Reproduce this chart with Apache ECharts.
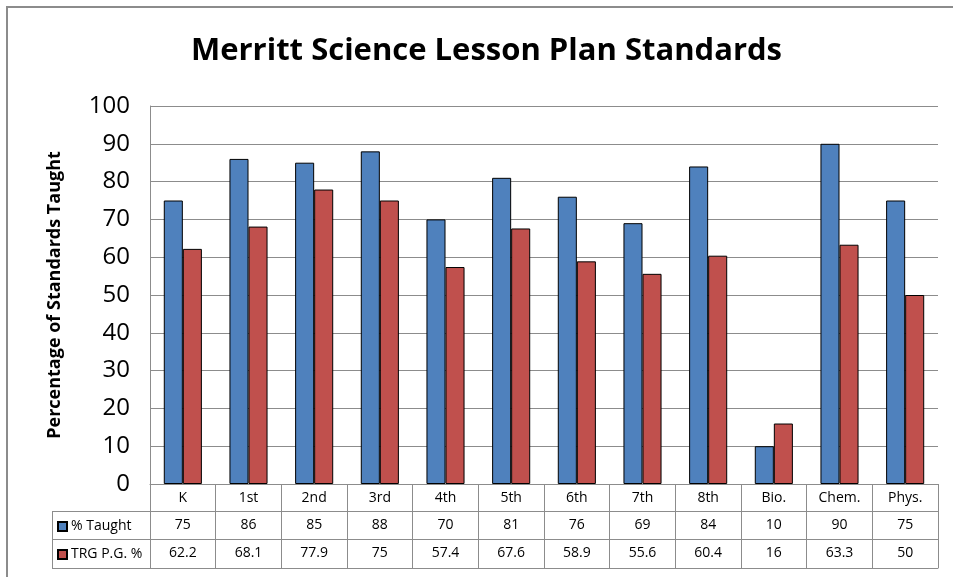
<!DOCTYPE html>
<html>
<head>
<meta charset="utf-8">
<script src="https://cdn.jsdelivr.net/npm/echarts@6/dist/echarts.min.js"></script>
<style>
html,body{margin:0;padding:0;background:#fff;}
#chart{width:953px;height:577px;}
</style>
</head>
<body>
<div id="chart"></div>
<script>
const categories = ['K','1st','2nd','3rd','4th','5th','6th','7th','8th','Bio.','Chem.','Phys.'];
const taught = [75, 86, 85, 88, 70, 81, 76, 69, 84, 10, 90, 75];
const trg = [62.2, 68.1, 77.9, 75, 57.4, 67.6, 58.9, 55.6, 60.4, 16, 63.3, 50];
const seriesNames = ['% Taught', 'TRG P.G. %'];
const yTicks = {min: 0, max: 100, interval: 10};

const FONT = 'Open Sans';
const GRAY = '#8c8c8c';
const chart = echarts.init(document.getElementById('chart'));

function tableAxis(data, offset, tickLen, showLabel) {
  return {
    type: 'category',
    data: data,
    position: 'bottom',
    offset: offset,
    axisLine: {show: true, lineStyle: {color: GRAY, width: 1}},
    axisTick: {show: tickLen > 0, interval: 0, length: tickLen, lineStyle: {color: GRAY, width: 1}},
    axisLabel: {show: showLabel, interval: 0, margin: 7, fontFamily: FONT, fontSize: 14, color: '#000'},
    splitLine: {show: false}
  };
}

chart.setOption({
  backgroundColor: '#fff',
  animation: false,
  title: {
    text: 'Merritt Science Lesson Plan Standards',
    left: 191,
    top: 36,
    padding: 0,
    textStyle: {fontFamily: FONT, fontSize: 31, fontWeight: 'bold', color: '#000'}
  },
  legend: {
    orient: 'vertical',
    left: 57,
    top: 518,
    padding: 0,
    itemWidth: 9,
    itemHeight: 9,
    itemGap: 11,
    icon: 'rect',
    textStyle: {fontFamily: FONT, fontSize: 14, color: '#000', lineHeight: 17, padding: [0,0,0,-1]},
    data: seriesNames
  },
  grid: {left: 150, right: 15, top: 106, bottom: 93, containLabel: false},
  xAxis: [
    tableAxis(categories, 0, 27, true),
    tableAxis(taught.map(String), 27, 28, true),
    tableAxis(trg.map(String), 55, 29, true),
    tableAxis(categories.map(() => ''), 84, 0, false)
  ],
  yAxis: {
    type: 'value',
    min: yTicks.min,
    max: yTicks.max,
    interval: yTicks.interval,
    name: 'Percentage of Standards Taught',
    nameLocation: 'middle',
    nameGap: 86,
    nameRotate: 90,
    nameTextStyle: {fontFamily: FONT, fontSize: 18, fontWeight: 'bold', color: '#000'},
    axisLine: {show: true, lineStyle: {color: GRAY, width: 1}},
    axisTick: {show: false},
    axisLabel: {fontFamily: FONT, fontSize: 24, color: '#000', margin: 20},
    splitLine: {show: true, lineStyle: {color: GRAY, width: 1}}
  },
  series: [
    {
      name: seriesNames[0], type: 'bar', data: taught, xAxisIndex: 0,
      barGap: '0%', barCategoryGap: '42%',
      itemStyle: {color: '#4F81BD', borderColor: '#000', borderWidth: 1}
    },
    {
      name: seriesNames[1], type: 'bar', data: trg, xAxisIndex: 0,
      barGap: '0%', barCategoryGap: '42%',
      itemStyle: {color: '#C0504D', borderColor: '#000', borderWidth: 1}
    }
  ],
  graphic: [
    {type: 'rect', shape: {x: 7, y: 7, width: 960, height: 600}, style: {fill: 'none', stroke: GRAY, lineWidth: 2}, silent: true},
    {type: 'line', shape: {x1: 52, y1: 511.5, x2: 150, y2: 511.5}, style: {stroke: GRAY, lineWidth: 1}},
    {type: 'line', shape: {x1: 52, y1: 539.5, x2: 150, y2: 539.5}, style: {stroke: GRAY, lineWidth: 1}},
    {type: 'line', shape: {x1: 52, y1: 568.5, x2: 150, y2: 568.5}, style: {stroke: GRAY, lineWidth: 1}},
    {type: 'line', shape: {x1: 52.5, y1: 511, x2: 52.5, y2: 569}, style: {stroke: GRAY, lineWidth: 1}}
  ]
});
</script>
</body>
</html>
